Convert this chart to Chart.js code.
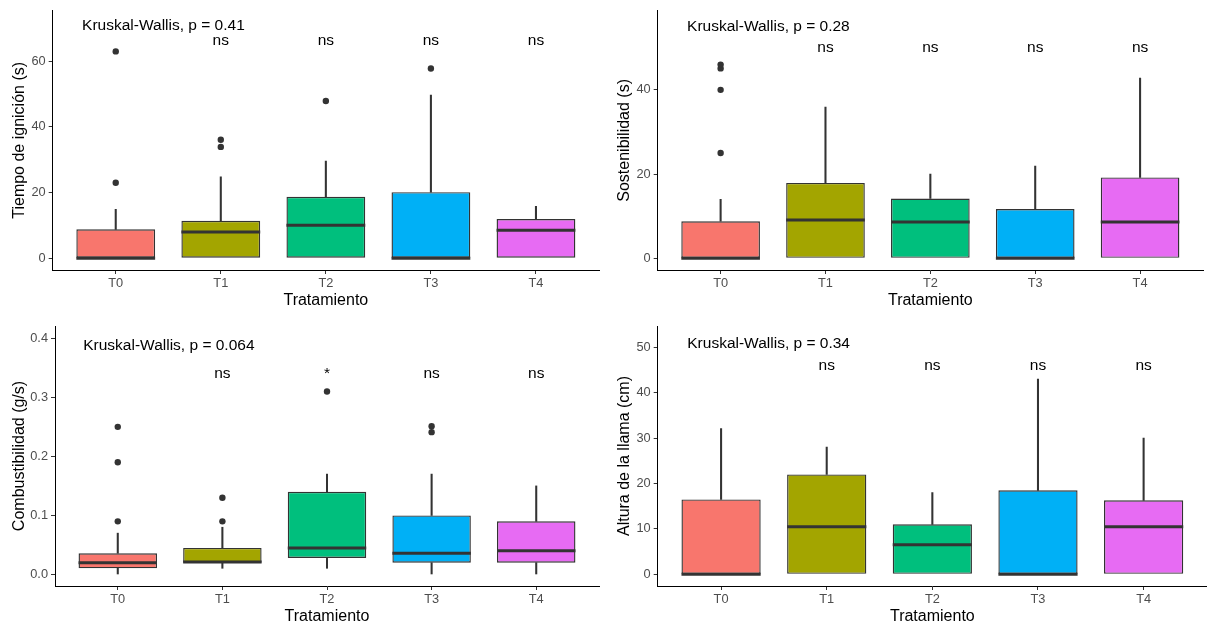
<!DOCTYPE html>
<html>
<head>
<meta charset="utf-8">
<script src="https://cdn.jsdelivr.net/npm/chart.js@4.4.1/dist/chart.umd.min.js"></script>
<style>
  body { margin: 0; background: #fff; }
  #wrap { position: relative; width: 1207px; height: 628px; }
  canvas { position: absolute; }
</style>
</head>
<body>
<div id="wrap">
  <canvas id="c1" width="603" height="314" style="left:0;top:0"></canvas>
  <canvas id="c2" width="604" height="314" style="left:603px;top:0"></canvas>
  <canvas id="c3" width="603" height="314" style="left:0;top:314px"></canvas>
  <canvas id="c4" width="604" height="314" style="left:603px;top:314px"></canvas>
</div>
<script>
const categories = ['T0', 'T1', 'T2', 'T3', 'T4'];
const fills = ['#F8766D', '#A3A500', '#00BF7D', '#00B0F6', '#E76BF3'];

// Tiempo de ignicion
const ignLo = [0, 0, 0, 0, 0];
const ignQ1 = [0, 0, 0, 0, 0];
const ignMed = [0, 8, 10, 0, 8.5];
const ignQ3 = [8.8, 11.4, 18.7, 20.1, 11.9];
const ignHi = [14.9, 24.8, 29.6, 49.7, 15.8];
const ignOut = [[23, 63], [33.9, 36.1], [47.9], [57.8], []];
const ignKW = 'Kruskal-Wallis, p = 0.41';
const ignSig = ['', 'ns', 'ns', 'ns', 'ns'];

// Sostenibilidad
const sosLo = [0, 0, 0, 0, 0];
const sosQ1 = [0, 0, 0, 0, 0];
const sosMed = [0, 9.1, 8.6, 0, 8.6];
const sosQ3 = [8.8, 17.9, 14.2, 11.7, 19.2];
const sosHi = [14, 35.9, 20, 21.9, 42.8];
const sosOut = [[25, 40, 45.1, 46], [], [], [], []];
const sosKW = 'Kruskal-Wallis, p = 0.28';
const sosSig = ['', 'ns', 'ns', 'ns', 'ns'];

// Combustibilidad
const comLo = [0, 0.0105, 0.0105, 0, 0];
const comQ1 = [0.0105, 0.02, 0.028, 0.02, 0.02];
const comMed = [0.02, 0.021, 0.045, 0.036, 0.04];
const comQ3 = [0.036, 0.045, 0.14, 0.1, 0.09];
const comHi = [0.07, 0.08, 0.17, 0.17, 0.15];
const comOut = [[0.09, 0.19, 0.25], [0.09, 0.13], [0.31], [0.241, 0.251], []];
const comKW = 'Kruskal-Wallis, p = 0.064';
const comSig = ['', 'ns', '*', 'ns', 'ns'];

// Altura de la llama
const altLo = [0, 0, 0, 0, 0];
const altQ1 = [0, 0, 0, 0, 0];
const altMed = [0, 10.5, 6.5, 0, 10.5];
const altQ3 = [16.5, 22, 11, 18.5, 16.3];
const altHi = [32.1, 28, 18, 43, 30];
const altOut = [[], [], [], [], []];
const altKW = 'Kruskal-Wallis, p = 0.34';
const altSig = ['', 'ns', 'ns', 'ns', 'ns'];

const FONT = '"Liberation Sans", Arial, sans-serif';

const annotate = {
  id: 'annotate',
  afterDatasetsDraw(chart, args, o) {
    const {ctx, scales: {x, y}} = chart;
    ctx.save();
    ctx.fillStyle = '#000';
    ctx.font = '15.5px ' + FONT;
    ctx.textBaseline = 'alphabetic';
    ctx.textAlign = 'left';
    ctx.fillText(o.kw, x.getPixelForValue(o.kwX), y.getPixelForValue(o.kwY));
    ctx.textAlign = 'center';
    o.sig.forEach(function(s, i) {
      if (s) ctx.fillText(s, x.getPixelForValue(i), y.getPixelForValue(o.sigY));
    });
    ctx.restore();
  }
};

function halfBox(ctx) {
  const s = ctx.chart.scales.x;
  return (s.getPixelForValue(1) - s.getPixelForValue(0)) * 0.375;
}

function makePanel(p) {
  const boxes = categories.map((c, i) => ({x: i, y: [p.q1[i], p.q3[i]]}));
  // skip whiskers of zero length
  const lower = categories.map((c, i) => ({x: i, y: p.lo[i] < p.q1[i] ? [p.lo[i], p.q1[i]] : null}));
  const upper = categories.map((c, i) => ({x: i, y: p.hi[i] > p.q3[i] ? [p.q3[i], p.hi[i]] : null}));
  const medians = categories.map((c, i) => ({x: i, y: p.med[i]}));
  const points = [];
  p.out.forEach((vals, i) => vals.forEach(v => points.push({x: i, y: v})));

  new Chart(document.getElementById(p.id), {
    type: 'bar',
    data: {
      datasets: [
        {
          type: 'line', data: points, showLine: false, order: 1,
          pointRadius: 3.2, pointBackgroundColor: '#333', pointBorderWidth: 0
        },
        {
          type: 'line', data: medians, showLine: false, order: 2,
          pointStyle: 'line', pointRadius: halfBox, pointBorderWidth: 3,
          pointBorderColor: '#333'
        },
        {
          data: boxes, order: 3, backgroundColor: fills, borderColor: '#333',
          borderWidth: 1.4, borderSkipped: false, grouped: false,
          barPercentage: 0.75, categoryPercentage: 1
        },
        {
          data: lower, order: 4, backgroundColor: '#333', borderWidth: 0,
          grouped: false, barThickness: 1.4
        },
        {
          data: upper, order: 4, backgroundColor: '#333', borderWidth: 0,
          grouped: false, barThickness: 1.4
        }
      ]
    },
    options: {
      responsive: false,
      animation: false,
      events: [],
      devicePixelRatio: 1,
      layout: {padding: {top: p.top, right: p.right, left: 0, bottom: 0}},
      plugins: {
        legend: {display: false},
        tooltip: {enabled: false},
        annotate: {kw: p.kw, kwX: p.kwX, kwY: p.kwY, sig: p.sig, sigY: p.sigY}
      },
      scales: {
        x: {
          type: 'linear', min: -0.6, max: 4.6, offset: false,
          afterBuildTicks: s => { s.ticks = categories.map((c, i) => ({value: i})); },
          afterFit: s => { s.height = p.xh; },
          grid: {drawOnChartArea: false, drawTicks: true, tickLength: 4, color: '#333', offset: false},
          border: {display: true, color: '#000', width: 1},
          ticks: {
            callback: v => categories[v], color: '#4D4D4D', padding: 2,
            font: {family: FONT, size: 12.8}, maxRotation: 0
          },
          title: {
            display: true, text: 'Tratamiento', color: '#000',
            font: {family: FONT, size: 16}, padding: {top: 0, bottom: p.xtp}
          }
        },
        y: {
          min: p.min, max: p.max,
          afterFit: s => { s.width = p.yw; },
          grid: {drawOnChartArea: false, drawTicks: true, tickLength: 4, color: '#333'},
          border: {display: true, color: '#000', width: 1},
          ticks: {
            stepSize: p.step, includeBounds: false, color: '#4D4D4D', padding: 3,
            font: {family: FONT, size: 12.8},
            callback: v => v.toFixed(p.dec)
          },
          title: {
            display: true, text: p.title, color: '#000',
            font: {family: FONT, size: 16}, padding: {top: p.ytp, bottom: 0}
          }
        }
      }
    },
    plugins: [annotate]
  });
}

makePanel({id: 'c1', title: 'Tiempo de ignición (s)', lo: ignLo, q1: ignQ1, med: ignMed, q3: ignQ3, hi: ignHi, out: ignOut,
  kw: ignKW, sig: ignSig, kwX: -0.32, kwY: 69.6, sigY: 64.8, min: -3.6, max: 75.4, step: 20, dec: 0,
  top: 10, right: 1, yw: 52.7, xh: 44, ytp: 10.4, xtp: 3.4});
makePanel({id: 'c2', title: 'Sostenibilidad (s)', lo: sosLo, q1: sosQ1, med: sosMed, q3: sosQ3, hi: sosHi, out: sosOut,
  kw: sosKW, sig: sosSig, kwX: -0.32, kwY: 54, sigY: 48.9, min: -2.77, max: 58.8, step: 20, dec: 0,
  top: 10, right: 0, yw: 54.7, xh: 44, ytp: 12.4, xtp: 3.4});
makePanel({id: 'c3', title: 'Combustibilidad (g/s)', lo: comLo, q1: comQ1, med: comMed, q3: comQ3, hi: comHi, out: comOut,
  kw: comKW, sig: comSig, kwX: -0.33, kwY: 0.381, sigY: 0.332, min: -0.0195, max: 0.4208, step: 0.1, dec: 1,
  top: 12, right: 1, yw: 55, xh: 42, ytp: 10.4, xtp: 1.7});
makePanel({id: 'c4', title: 'Altura de la llama (cm)', lo: altLo, q1: altQ1, med: altMed, q3: altQ3, hi: altHi, out: altOut,
  kw: altKW, sig: altSig, kwX: -0.32, kwY: 49.8, sigY: 45, min: -2.58, max: 54.7, step: 10, dec: 0,
  top: 12, right: 0, yw: 54.7, xh: 42, ytp: 12.4, xtp: 1.7});
</script>
</body>
</html>
